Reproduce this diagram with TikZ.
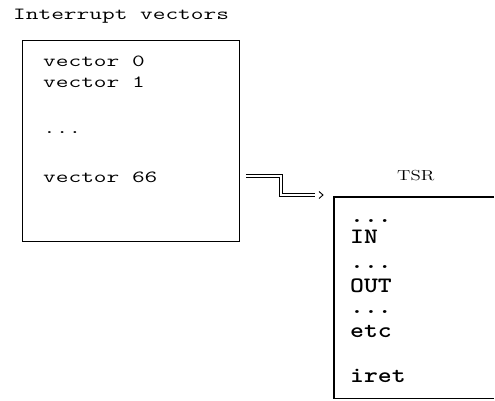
\documentclass[tikz,border=0pt]{standalone}
\usepackage{fontspec}
\usepackage{graphicx}
\usetikzlibrary{positioning,calc}
\newcommand{\vwide}[1]{\scalebox{1.45}[1]{#1}}
\newcommand{\cwide}[1]{\scalebox{1.2}[1]{#1}}
\newcommand{\twide}[1]{\scalebox{1.3}[1]{#1}}
\tikzset{
  frame/.style={line width=1.1pt, inner sep=0pt, anchor=north west},
  vecline/.style={anchor=base west, inner sep=0pt, font=\ttfamily\fontsize{17}{19}\selectfont},
  codeline/.style={anchor=base west, inner sep=0pt, font=\ttfamily\bfseries\fontsize{22}{24}\selectfont},
  link/.style={double, double distance=2.4pt, line width=0.9pt}
}
\begin{document}
\begin{tikzpicture}[x=1pt,y=-1pt]
  \useasboundingbox (0,0) rectangle (495,401);
  % vector table
  \node[vecline] (title) at (13,20) {\vwide{Interrupt vectors}};
  \node[frame, draw, minimum width=217pt, minimum height=201pt] (vecbox) at (22,40) {};
  \node[vecline] (v0) at (43,67) {\vwide{vector 0}};
  \node[vecline] (v1) at (43,88) {\vwide{vector 1}};
  \node[vecline] (vdots) at (43,134) {\vwide{...}};
  \node[vecline] (v66) at (43,182) {\vwide{vector 66}};
  % resident routine
  \node[anchor=base west, inner sep=0pt, font=\fontsize{14.5}{16}\selectfont] (tsr) at (397,180) {\twide{TSR}};
  \node[frame, minimum width=159pt, minimum height=200pt] (tsrbox) at (334,197) {};
  \draw[line width=1.1pt] (tsrbox.north east) -- (tsrbox.north west) -- (tsrbox.south west) -- (tsrbox.south east);
  \node[codeline] (d1) at (350,222) {\cwide{...}};
  \node[codeline] (cin) at (350,243) {\cwide{IN}};
  \node[codeline] (d2) at (350,268) {\cwide{...}};
  \node[codeline] (cout) at (350,292) {\cwide{OUT}};
  \node[codeline] (d3) at (350,313) {\cwide{...}};
  \node[codeline] (cetc) at (350,337) {\cwide{etc}};
  \node[codeline] (ciret) at (350,382) {\cwide{iret}};
  % hook from vector 66 to the TSR
  \coordinate (tip) at ([xshift=-11pt,yshift=2pt]tsrbox.north west);
  \draw[link] ([xshift=6pt,yshift=-35pt]vecbox.east) -- ++(35,0) |- ([xshift=-8pt]tip);
  \draw[line width=0.9pt] ([xshift=-4pt,yshift=3.5pt]tip) -- (tip) -- ([xshift=-4pt,yshift=-3.5pt]tip);
\end{tikzpicture}
\end{document}
